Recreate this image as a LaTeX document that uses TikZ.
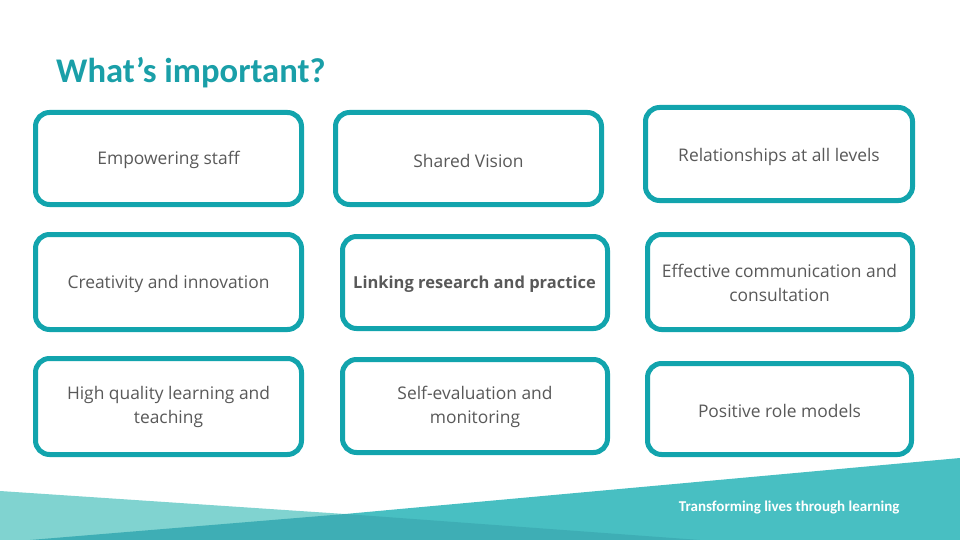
\documentclass[tikz,border=0pt]{standalone}
\usepackage{fontspec}
\setmainfont{Carlito}
\newfontfamily\cardfont{Open Sans}
\definecolor{boxteal}{HTML}{12A4AD}
\definecolor{titleteal}{HTML}{1A9FA8}
\definecolor{txtgray}{HTML}{595959}
\definecolor{lightteal}{HTML}{80D3D0}
\definecolor{midteal}{HTML}{48BFC2}
\definecolor{darkteal}{HTML}{3EAEB5}
\begin{document}
\begin{tikzpicture}[x=1pt,y=-1pt,
  card/.style={draw=boxteal, line width=5pt, rounded corners=14pt, fill=white, inner sep=0pt},
  cardtext/.style={text=txtgray, align=center, inner sep=0pt,
    font=\cardfont\fontsize{17.4}{24}\selectfont},
  ]
\useasboundingbox (0,0) rectangle (960,540);
% bottom band
\fill[lightteal] (0,491) -- (345,514) -- (345,540) -- (0,540) -- cycle;
\fill[midteal] (345,514) -- (960,458) -- (960,540) -- (345,540) -- cycle;
\fill[darkteal] (30,540) -- (345,514) -- (700,540) -- cycle;
\node[anchor=east, text=white, font=\fontsize{15}{18}\selectfont\bfseries] (foot) at (903,508) {Transforming lives through learning};
% title
\node[anchor=base west, inner sep=0pt, text=titleteal, font=\fontsize{34.6}{40}\selectfont\bfseries] (title) at (56,83) {What’s important?};
% cards
\node[card, minimum width=266pt, minimum height=92pt] (a) at (168.5,158.5) {};
\node[card, minimum width=266pt, minimum height=92pt] (b) at (468.5,158.5) {};
\node[card, minimum width=267pt, minimum height=93pt] (c) at (779,154) {};
\node[card, minimum width=266pt, minimum height=95pt] (d) at (168.5,282) {};
\node[card, minimum width=265pt, minimum height=92pt] (e) at (475,282.5) {};
\node[card, minimum width=265pt, minimum height=95pt] (f) at (780,282) {};
\node[card, minimum width=266pt, minimum height=96pt] (g) at (168.5,406.5) {};
\node[card, minimum width=265pt, minimum height=93pt] (h) at (475,406) {};
\node[card, minimum width=264pt, minimum height=91pt] (i) at (779.5,409) {};
% texts
\node[cardtext] (ta) at (168.5,160) {Empowering staff};
\node[cardtext] (tb) at (468.5,161) {Shared Vision};
\node[cardtext] (tc) at (779,157) {Relationships at all levels};
\node[cardtext] (td) at (168.5,284) {Creativity and innovation};
\node[cardtext, font=\cardfont\fontsize{16.5}{24}\selectfont\bfseries] (te) at (474.5,284) {Linking research and practice};
\node[cardtext] (tf) at (779.5,283) {Effective communication and\\consultation};
\node[cardtext] (tg) at (168.5,407) {High quality learning and\\teaching};
\node[cardtext] (th) at (475,407) {Self-evaluation and\\monitoring};
\node[cardtext] (ti) at (779.5,411) {Positive role models};
\end{tikzpicture}
\end{document}
